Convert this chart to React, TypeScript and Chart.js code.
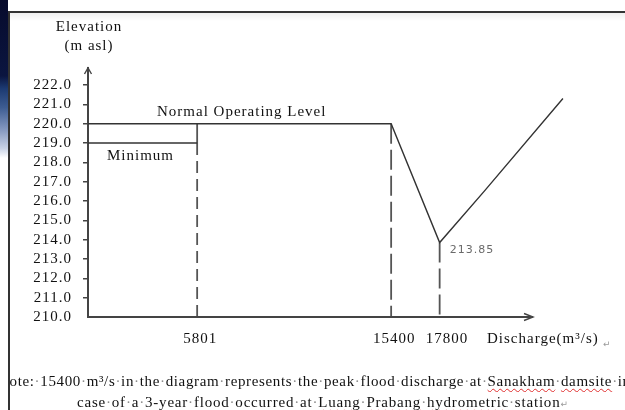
import React, { useEffect, useRef } from "react";
import { Chart, registerables } from "chart.js";

Chart.register(...registerables);

// ---- data ----
const Y_TICKS = [210, 211, 212, 213, 214, 215, 216, 217, 218, 219, 220, 221, 222];
const X_TICKS = [5801, 15400, 17800];
const X_MIN = 400;
const X_MAX = 24250;
const X_AXIS_END = 22420;
const Y_MIN = 210;
const Y_MAX = 222.88;

const NORMAL_LEVEL = 220;
const MIN_LEVEL = 219;
const Q_MIN_OP = 5801;
const Q_PEAK = 15400;
const Q_LOW = 17800;
const LOW_LEVEL = 213.85;

const CURVE_Q = [X_MIN, 15400, 17800, 20000, 23900];
const CURVE_H = [220, 220, 213.85, 216.5, 221.3];
const MINIMUM_Q = [X_MIN, 5801];
const MINIMUM_H = [219, 219];

const LABEL_NORMAL = "Normal Operating Level";
const LABEL_MINIMUM = "Minimum";
const LABEL_Y1 = "Elevation";
const LABEL_Y2 = "(m asl)";
const LABEL_X = "Discharge(m³/s)";
const LABEL_LOW = "213.85";

const NOTE_LINE_1 = ["Note:", "15400", "m³/s", "in", "the", "diagram", "represents", "the", "peak", "flood", "discharge", "at", "Sanakham", "damsite", "in"];
const NOTE_LINE_2 = ["case", "of", "a", "3-year", "flood", "occurred", "at", "Luang", "Prabang", "hydrometric", "station"];
const WAVY = new Set(["Sanakham", "damsite", "Luang", "Prabang", "hydrometric"]);

const SERIF = "'Liberation Serif', 'Times New Roman', serif";
const INK = "#111";

function pts(xs: number[], ys: number[]) {
  return xs.map((x, i) => ({ x, y: ys[i] }));
}

const decor = {
  id: "decor",
  beforeDraw(chart: any) {
    (chart.ctx as any).letterSpacing = "1px";
  },
  afterDraw(chart: any) {
    const ctx = chart.ctx as CanvasRenderingContext2D;
    const xs = chart.scales.x;
    const ys = chart.scales.y;
    const left = xs.getPixelForValue(X_MIN);
    const bottom = ys.getPixelForValue(Y_MIN);
    const xEnd = xs.getPixelForValue(X_AXIS_END);
    const top = chart.chartArea.top;
    ctx.save();
    (ctx as any).letterSpacing = "1px";
    // x axis line with arrow
    ctx.strokeStyle = "#444";
    ctx.lineWidth = 2;
    ctx.beginPath();
    ctx.moveTo(left - 1, bottom);
    ctx.lineTo(xEnd, bottom);
    ctx.stroke();
    ctx.lineWidth = 1.4;
    ctx.beginPath();
    ctx.moveTo(xEnd - 9, bottom - 3.5);
    ctx.lineTo(xEnd, bottom);
    ctx.lineTo(xEnd - 9, bottom + 3.5);
    ctx.stroke();
    // y arrow
    ctx.beginPath();
    ctx.moveTo(left - 3.5, top + 6);
    ctx.lineTo(left, top);
    ctx.lineTo(left + 3.5, top + 6);
    ctx.stroke();

    ctx.fillStyle = INK;
    ctx.font = `15px ${SERIF}`;
    ctx.textBaseline = "alphabetic";
    ctx.textAlign = "center";
    ctx.fillText(LABEL_Y1, left + 1, 31);
    ctx.fillText(LABEL_Y2, left + 1, 50);
    ctx.textAlign = "left";
    const yN = ys.getPixelForValue(NORMAL_LEVEL);
    const yM = ys.getPixelForValue(MIN_LEVEL);
    ctx.fillText(LABEL_NORMAL, left + 69, yN - 8);
    ctx.fillText(LABEL_MINIMUM, left + 19, yM + 17);
    ctx.fillText(LABEL_X, xEnd - 46, bottom + 26);
    // paragraph mark
    ctx.fillStyle = "#999";
    (ctx as any).letterSpacing = "0px";
    ctx.font = `9px 'DejaVu Sans', sans-serif`;
    ctx.fillText("↵", xEnd + 70, bottom + 30);
    // low point label
    ctx.fillStyle = "#6a6a6a";
    (ctx as any).letterSpacing = "1px";
    ctx.font = `11px 'DejaVu Sans', sans-serif`;
    ctx.fillText(LABEL_LOW, xs.getPixelForValue(Q_LOW) + 10, ys.getPixelForValue(LOW_LEVEL) + 10);
    ctx.restore();
  },
};

const wavyStyle: React.CSSProperties = {
  textDecorationLine: "underline",
  textDecorationStyle: "wavy",
  textDecorationColor: "#e03030",
  textDecorationThickness: "1px",
  textUnderlineOffset: "2px",
};

function NoteWords({ words, end }: { words: string[]; end?: boolean }) {
  return (
    <>
      {words.map((w, i) => (
        <React.Fragment key={i}>
          {i > 0 && <span style={{ color: "#8c8c8c" }}>·</span>}
          <span style={WAVY.has(w) ? wavyStyle : undefined}>{w}</span>
        </React.Fragment>
      ))}
      {end && (
        <span style={{ color: "#9a9a9a", fontFamily: "'DejaVu Sans', sans-serif", fontSize: 9, letterSpacing: 0 }}>↵</span>
      )}
    </>
  );
}

export default function App() {
  const ref = useRef<HTMLCanvasElement | null>(null);

  useEffect(() => {
    if (!ref.current) return;
    const solid = "#333";
    const dash = "#555";
    const base = { pointRadius: 0, fill: false, tension: 0, showLine: true };
    const chart = new Chart(ref.current, {
      type: "line",
      data: {
        datasets: [
          { ...base, data: pts(CURVE_Q, CURVE_H), borderColor: solid, borderWidth: 1.4 },
          { ...base, data: pts(MINIMUM_Q, MINIMUM_H), borderColor: solid, borderWidth: 1.4 },
          { ...base, data: pts([Q_MIN_OP, Q_MIN_OP], [NORMAL_LEVEL, MIN_LEVEL]), borderColor: dash, borderWidth: 1.8 },
          { ...base, data: pts([Q_MIN_OP, Q_MIN_OP], [MIN_LEVEL, Y_MIN]), borderColor: dash, borderWidth: 1.8, borderDash: [12, 6] },
          { ...base, data: pts([Q_PEAK, Q_PEAK], [NORMAL_LEVEL, Y_MIN]), borderColor: dash, borderWidth: 1.8, borderDash: [20, 6] },
          { ...base, data: pts([Q_LOW, Q_LOW], [LOW_LEVEL, Y_MIN]), borderColor: dash, borderWidth: 1.8, borderDash: [20, 6] },
        ] as any,
      },
      options: {
        animation: false,
        responsive: false,
        events: [],
        layout: { padding: { left: 0, top: 68, right: 55, bottom: 0 } },
        plugins: { legend: { display: false }, tooltip: { enabled: false }, title: { display: false } },
        scales: {
          x: {
            type: "linear",
            min: X_MIN,
            max: X_MAX,
            afterFit: (s: any) => {
              s.height = 93;
            },
            afterBuildTicks: (s: any) => {
              s.ticks = X_TICKS.map((v) => ({ value: v }));
            },
            grid: { display: false, drawTicks: false, tickLength: 0 },
            border: { display: false },
            ticks: {
              padding: 13,
              labelOffset: 3,
              autoSkip: false,
              maxRotation: 0,
              color: INK,
              font: { family: SERIF, size: 15 },
              callback: (v: any) => (Number(v) === Q_LOW ? "\u2002" + String(v) : String(v)),
            },
          },
          y: {
            type: "linear",
            min: Y_MIN,
            max: Y_MAX,
            afterFit: (s: any) => {
              s.width = 88;
            },
            afterBuildTicks: (s: any) => {
              s.ticks = Y_TICKS.map((v) => ({ value: v }));
            },
            grid: {
              drawOnChartArea: false,
              tickLength: 5,
              lineWidth: 1.5,
              color: (c: any) => (c.tick && c.tick.value === Y_MIN ? "rgba(0,0,0,0)" : "#444"),
            },
            border: { display: true, color: "#444", width: 2 },
            ticks: {
              padding: 11,
              autoSkip: false,
              color: INK,
              font: { family: SERIF, size: 15 },
              callback: (v: any) => Number(v).toFixed(1),
            },
          },
        },
      } as any,
      plugins: [decor],
    });
    return () => chart.destroy();
  }, []);

  const noteFont: React.CSSProperties = {
    position: "absolute",
    fontFamily: SERIF,
    fontSize: 15,
    letterSpacing: "0.65px",
    lineHeight: "21px",
    color: INK,
    whiteSpace: "nowrap",
  };

  return (
    <div style={{ position: "absolute", left: 0, top: 0, width: 625, height: 410, overflow: "hidden", background: "#fff" }}>
      <div
        style={{
          position: "absolute",
          left: 0,
          top: 0,
          width: 8,
          height: 158,
          background:
            "linear-gradient(to bottom, #070b2c 0%, #0b1540 48%, #1c3a72 56%, #3d5c92 68%, #8498c0 82%, #c9d3e6 94%, #ffffff 100%)",
        }}
      />
      <div style={{ position: "absolute", left: 10, top: 13, width: 615, height: 8, background: "linear-gradient(to bottom, #efefef, #ffffff)" }} />
      <div style={{ position: "absolute", left: 8, top: 11, width: 617, height: 2, background: "#333" }} />
      <div style={{ position: "absolute", left: 8, top: 11, width: 2, height: 399, background: "#333" }} />
      <canvas ref={ref} width={625} height={410} style={{ position: "absolute", left: 0, top: 0, width: 625, height: 410 }} />
      <div style={{ ...noteFont, left: 10, top: 371, width: 615, overflow: "hidden" }}>
        <span style={{ marginLeft: -12 }}>
          <NoteWords words={NOTE_LINE_1} />
        </span>
      </div>
      <div style={{ ...noteFont, left: 77, top: 392, letterSpacing: "0.8px" }}>
        <NoteWords words={NOTE_LINE_2} end />
      </div>
    </div>
  );
}
